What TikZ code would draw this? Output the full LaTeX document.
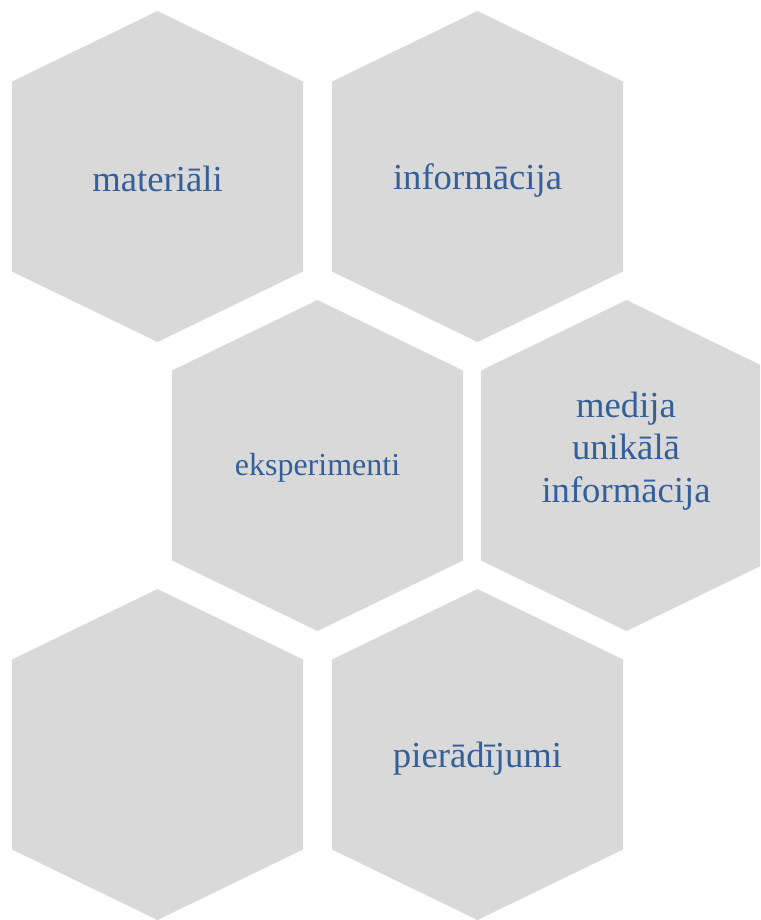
\documentclass[tikz,border=0pt]{standalone}
\usepackage{fontspec}
\setmainfont{Liberation Serif}
\usepackage{tikz}
\definecolor{cellgray}{HTML}{D9D9D9}
\definecolor{inkblue}{HTML}{34609A}

% one hexagon cell, pointy top, around a named centre
\newcommand{\hexcell}[3]{%
  \coordinate (#1) at (#2,#3);
  \fill[cell] (#1) ++(0,-165.5) -- ++(145.5,70.5) -- ++(0,190) -- ++(-145.5,70.5)
    -- ++(-145.5,-70.5) -- ++(0,-190) -- cycle;}

\begin{document}
\begin{tikzpicture}[
  x=0.75pt, y=-0.75pt,
  cell/.style={fill=cellgray},
  celltext/.style={text=inkblue, align=center, inner sep=0pt,
                   font=\fontsize{27.5}{32}\selectfont},
  smalltext/.style={celltext, font=\fontsize{24}{28}\selectfont},
]
\useasboundingbox (0,0) rectangle (760,920);
\clip (0,0) rectangle (760,920);

\hexcell{c1}{157.5}{176.5}
\hexcell{c2}{477.5}{176.5}
\hexcell{c3}{317.5}{465.5}
\hexcell{c4}{626.5}{465.5}
\hexcell{c5}{157.5}{754.5}
\hexcell{c6}{477.5}{754.5}

\node[celltext, yshift=-1.5pt] (mat) at (c1) {materiāli};
\node[celltext, yshift=-3pt] (info) at (c2) {informācija};
\node[smalltext, yshift=-2pt] (eksp) at (c3) {eksperimenti};
\node[celltext] (media) at (626,451) {medija\\unikālā\\informācija};
\node[celltext, yshift=-3pt] (pier) at (c6) {pierādījumi};

\end{tikzpicture}
\end{document}
